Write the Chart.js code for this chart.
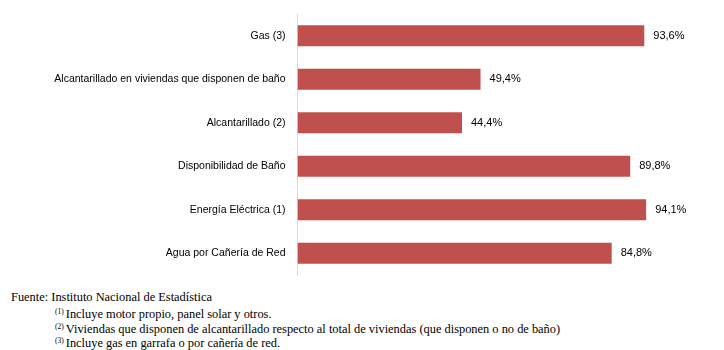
<!DOCTYPE html>
<html>
<head>
<meta charset="utf-8">
<script src="https://cdn.jsdelivr.net/npm/chart.js@4"></script>
<style>
  html, body { margin: 0; padding: 0; background: #fff; }
  #wrap { position: relative; width: 724px; height: 350px; }
  #servicesChart { position: absolute; left: 0; top: 0; }
  .note {
    position: absolute;
    font-family: "Liberation Serif", serif;
    font-size: 12.4px;
    color: #000;
    white-space: nowrap;
    line-height: 14px;
  }
  .note sup { font-size: 7.5px; vertical-align: 4px; margin-right: 2px; }
</style>
</head>
<body>
<div id="wrap">
  <canvas id="servicesChart" width="724" height="282"></canvas>
  <div class="note" style="left:11px; top:290px;">Fuente: Instituto Nacional de Estadística</div>
  <div class="note" style="left:55px; top:305px;"><sup>(1)</sup>Incluye motor propio, panel solar y otros.</div>
  <div class="note" style="left:55px; top:320px;"><sup>(2)</sup>Viviendas que disponen de alcantarillado respecto al total de viviendas (que disponen o no de baño)</div>
  <div class="note" style="left:55px; top:334px;"><sup>(3)</sup>Incluye gas en garrafa o por cañería de red.</div>
</div>
<script>
// ----------------------
// DATA
// ----------------------
const categories = [
  "Gas (3)",
  "Alcantarillado en viviendas que disponen de baño",
  "Alcantarillado (2)",
  "Disponibilidad de Baño",
  "Energía Eléctrica (1)",
  "Agua por Cañería de Red"
];
const coverage = [93.6, 49.4, 44.4, 89.8, 94.1, 84.8];

const BAR_COLOR = "#C0504D";
const VALUE_FONT = "11px 'Liberation Sans', Arial, sans-serif";

// value text at the end of each bar
const valueLabels = {
  id: "valueLabels",
  afterDatasetsDraw(chart) {
    const ctx = chart.ctx;
    const meta = chart.getDatasetMeta(0);
    ctx.save();
    ctx.font = VALUE_FONT;
    ctx.fillStyle = "#000";
    ctx.textAlign = "left";
    ctx.textBaseline = "middle";
    meta.data.forEach((bar, i) => {
      const txt = coverage[i].toFixed(1).replace(".", ",") + "%";
      ctx.fillText(txt, bar.x + 9, bar.y);
    });
    ctx.restore();
  }
};

new Chart(document.getElementById("servicesChart"), {
  type: "bar",
  data: {
    labels: categories,
    datasets: [{
      data: coverage,
      backgroundColor: BAR_COLOR,
      borderWidth: 0,
      barPercentage: 0.484,
      categoryPercentage: 1
    }]
  },
  options: {
    indexAxis: "y",
    responsive: false,
    animation: false,
    layout: { padding: { top: 14, bottom: 7, left: 0, right: 56 } },
    plugins: {
      legend: { display: false },
      tooltip: { enabled: false }
    },
    scales: {
      x: {
        min: 0,
        max: 100,
        display: false
      },
      y: {
        grid: { display: false, drawTicks: false },
        border: { display: true, color: "#d9d9d9", width: 1 },
        ticks: {
          padding: 12,
          color: "#000",
          font: { family: "'Liberation Sans', Arial, sans-serif", size: 10.5 }
        },
        afterFit(scale) {
          scale.width = 297.5;
          scale.paddingTop = 0;
          scale.paddingBottom = 0;
        }
      }
    }
  },
  plugins: [valueLabels]
});
</script>
</body>
</html>
